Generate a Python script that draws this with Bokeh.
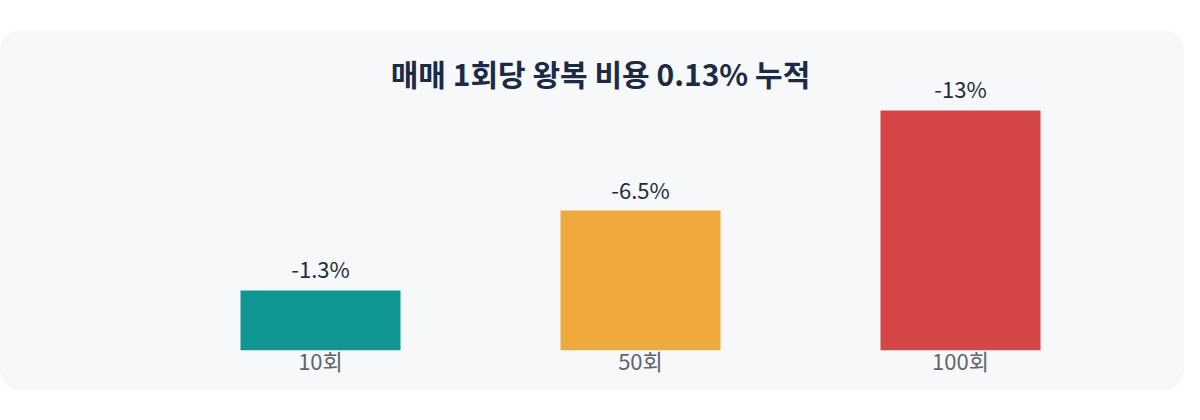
from bokeh.plotting import figure
from bokeh.models import Label, Spacer, ColumnDataSource
from bokeh.layouts import column
from bokeh.core.properties import value
from bokeh.embed import file_html
from bokeh.resources import INLINE

# ---- data ----
categories = ["10회", "50회", "100회"]
bar_heights = [25.0, 58.3, 100.0]        # displayed bar heights (relative)
value_labels = ["-1.3%", "-6.5%", "-13%"]
colors = ["#109693", "#f0a93d", "#d64646"]
title_text = "매매 1회당 왕복 비용 0.13% 누적"

FONT = "Noto Sans CJK KR"
BG = "#f7f8fa"

source = ColumnDataSource(dict(cat=categories, h=bar_heights, lab=value_labels, col=colors))

p = figure(
    x_range=categories, y_range=(0, 133.3),
    width=1184, height=360,
    output_backend="svg", toolbar_location=None,
    min_border_left=160, min_border_right=64,
    min_border_top=0, min_border_bottom=40,
)
p.background_fill_color = None
p.border_fill_color = None
p.outline_line_color = None
p.grid.visible = False
p.yaxis.visible = False
p.x_range.range_padding = 0
p.x_range.factor_padding = 0

p.vbar(x="cat", top="h", width=0.5, fill_color="col", line_color=None, source=source)
p.text(x="cat", y="h", text="lab", source=source,
       text_align="center", text_baseline="alphabetic", y_offset=-22,
       text_font=value(FONT), text_font_size="22px", text_color="#1e2d42")

ax = p.xaxis[0]
ax.axis_line_color = None
ax.major_tick_line_color = None
ax.minor_tick_line_color = None
ax.major_tick_out = 0
ax.major_tick_in = 0
ax.major_label_standoff = -7
ax.major_label_text_font = FONT
ax.major_label_text_font_size = "22px"
ax.major_label_text_color = "#5f6670"

title = Label(x=440, y=278, x_units="screen", y_units="screen", text=title_text,
              text_align="center", text_baseline="middle",
              text_font=FONT, text_font_size="30px", text_font_style="bold",
              text_color="#1b2b45")
p.add_layout(title)

p.styles = {"border-radius": "20px", "overflow": "hidden", "background-color": BG}

layout = column(Spacer(height=30, width=1184), p, spacing=0)
open("out.html", "w").write(file_html(layout, INLINE))
